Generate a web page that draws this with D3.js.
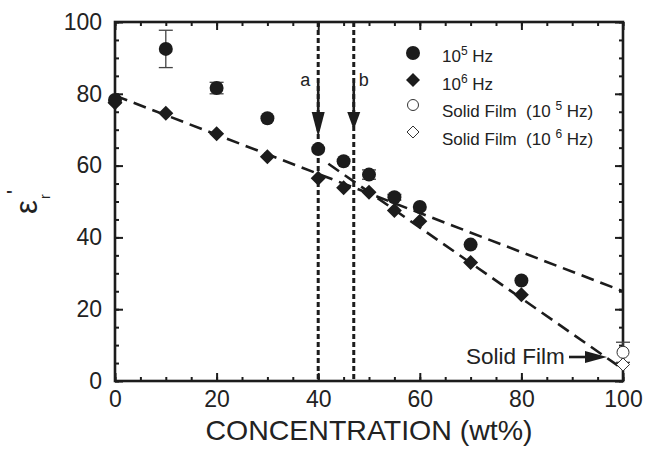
<!DOCTYPE html>
<html><head><meta charset="utf-8">
<script src="https://cdn.jsdelivr.net/npm/d3@7"></script>
<style>body{margin:0;background:#fff}svg{display:block}text{font-family:"Liberation Sans",Arial,sans-serif;fill:#222;white-space:pre}</style>
</head><body>
<svg id="c" width="646" height="449"></svg>
<script>
// ---- data ----
const conc = [0, 10, 20, 30, 40, 45, 50, 55, 60, 70, 80];
const eps1e5 = [78.3, 92.5, 81.6, 73.2, 64.6, 61.2, 57.5, 51.2, 48.5, 38.0, 28.0];
const err1e5 = [0, 5.2, 1.6, 0, 0, 0, 1.3, 0.8, 0, 0, 0];
const eps1e6 = [77.5, 74.6, 68.9, 62.5, 56.5, 53.8, 52.6, 47.5, 44.5, 33.0, 24.0];
const solidConc = [100];
const solid1e5 = [8.0];
const solidErr1e5 = [2.8];
const solid1e6 = [4.6];
const fitUpper = [[0, 79.5], [100, 25]];
const fitLower = [[42, 60.5], [100, 3.3]];
const markLines = [{x: 40, label: "a", tip: 68}, {x: 47, label: "b", tip: 70}];
const xTicks = [0, 20, 40, 60, 80, 100];
const yTicks = [0, 20, 40, 60, 80, 100];

const svg = d3.select("#c");
const x = d3.scaleLinear().domain([0, 100]).range([115, 623]);
const y = d3.scaleLinear().domain([0, 100]).range([381, 22]);
const ink = "#1c1c1c";

// vertical dotted lines
markLines.forEach(m => {
  svg.append("line").attr("x1", x(m.x)).attr("x2", x(m.x)).attr("y1", y(100)).attr("y2", y(0))
    .attr("stroke", ink).attr("stroke-width", 3).attr("stroke-dasharray", "5,3");
});

// fit lines
const line = d3.line().x(d => x(d[0])).y(d => y(d[1]));
[fitUpper, fitLower].forEach(f => {
  svg.append("path").attr("d", line(f)).attr("fill", "none").attr("stroke", ink)
    .attr("stroke-width", 2.6).attr("stroke-dasharray", "13,7");
});

// axes
function styleAxis(g) {
  g.select(".domain").remove();
  g.selectAll(".tick line").attr("stroke", ink).attr("stroke-width", 2);
  g.selectAll("text").style("font-size", "23px").attr("fill", "#222");
}
const xMinor = d3.range(0, 101, 5);
svg.append("g").attr("transform", `translate(0,${y(0)})`)
  .call(d3.axisBottom(x).tickValues(xMinor).tickSize(-4).tickFormat("")).call(styleAxis);
svg.append("g").attr("transform", `translate(0,${y(0)})`)
  .call(d3.axisBottom(x).tickValues(xTicks).tickSize(-8).tickPadding(10).tickFormat(d3.format("d"))).call(styleAxis);
svg.append("g").attr("transform", `translate(0,${y(100)})`)
  .call(d3.axisTop(x).tickValues(xMinor).tickSize(-4).tickFormat("")).call(styleAxis);
svg.append("g").attr("transform", `translate(0,${y(100)})`)
  .call(d3.axisTop(x).tickValues(xTicks).tickSize(-8).tickFormat("")).call(styleAxis);
svg.append("g").attr("transform", `translate(${x(0)},0)`)
  .call(d3.axisLeft(y).tickValues(xMinor).tickSize(-4).tickFormat("")).call(styleAxis);
svg.append("g").attr("transform", `translate(${x(0)},0)`)
  .call(d3.axisLeft(y).tickValues(yTicks).tickSize(-8).tickPadding(13).tickFormat(d3.format("d"))).call(styleAxis);
svg.append("g").attr("transform", `translate(${x(100)},0)`)
  .call(d3.axisRight(y).tickValues(xMinor).tickSize(-4).tickFormat("")).call(styleAxis);
svg.append("g").attr("transform", `translate(${x(100)},0)`)
  .call(d3.axisRight(y).tickValues(yTicks).tickSize(-8).tickFormat("")).call(styleAxis);

// frame
svg.append("rect").attr("x", x(0)).attr("y", y(100)).attr("width", x(100) - x(0)).attr("height", y(0) - y(100))
  .attr("fill", "none").attr("stroke", ink).attr("stroke-width", 2.6);

// error bars
function errBars(xs, ys, es) {
  xs.forEach((c, i) => {
    if (!es[i]) return;
    const g = svg.append("g").attr("stroke", "#444").attr("stroke-width", 1.3);
    g.append("line").attr("x1", x(c)).attr("x2", x(c)).attr("y1", y(ys[i] - es[i])).attr("y2", y(ys[i] + es[i]));
    [ys[i] - es[i], ys[i] + es[i]].forEach(v => g.append("line").attr("x1", x(c) - 7).attr("x2", x(c) + 7).attr("y1", y(v)).attr("y2", y(v)));
  });
}
errBars(conc, eps1e5, err1e5);
errBars(solidConc, solid1e5, solidErr1e5);

const diamond = s => `M0,${-s}L${s},0L0,${s}L${-s},0Z`;
// 10^6 diamonds
svg.append("g").selectAll("path").data(conc).join("path")
  .attr("transform", (d, i) => `translate(${x(d)},${y(eps1e6[i])})`)
  .attr("d", diamond(7.5)).attr("fill", ink);
// 10^5 circles
svg.append("g").selectAll("circle").data(conc).join("circle")
  .attr("cx", d => x(d)).attr("cy", (d, i) => y(eps1e5[i])).attr("r", 7).attr("fill", ink);
// solid film
svg.append("g").selectAll("circle").data(solidConc).join("circle")
  .attr("cx", d => x(d)).attr("cy", (d, i) => y(solid1e5[i])).attr("r", 6)
  .attr("fill", "#fff").attr("stroke", "#333").attr("stroke-width", 1);
svg.append("g").selectAll("path").data(solidConc).join("path")
  .attr("transform", (d, i) => `translate(${x(d)},${y(solid1e6[i])})`)
  .attr("d", diamond(6.5)).attr("fill", "#fff").attr("stroke", "#333").attr("stroke-width", 1);

// vertical arrows a, b
markLines.forEach(m => {
  const xp = x(m.x), top = 83, headBase = 112, tip = y(m.tip);
  svg.append("line").attr("x1", xp).attr("x2", xp).attr("y1", top).attr("y2", headBase + 2)
    .attr("stroke", ink).attr("stroke-width", 2.6);
  svg.append("path").attr("d", `M${xp - 6.5},${headBase}L${xp + 6.5},${headBase}L${xp},${tip}Z`).attr("fill", ink);
  svg.append("text").attr("x", m.label === "a" ? xp - 13 : xp + 10).attr("y", 86)
    .attr("text-anchor", "middle").style("font-size", "18px").text(m.label);
});

// Solid Film annotation
svg.append("text").attr("x", 466).attr("y", 364).style("font-size", "22.5px").text("Solid Film");
svg.append("line").attr("x1", 569).attr("x2", 588).attr("y1", 357).attr("y2", 357).attr("stroke", ink).attr("stroke-width", 2.6);
svg.append("path").attr("d", "M585,351L607,357L585,363Z").attr("fill", ink);

// legend
const lx = 413, tx = 442;
const leg = svg.append("g");
leg.append("circle").attr("cx", lx).attr("cy", 53).attr("r", 7).attr("fill", ink);
leg.append("path").attr("transform", `translate(${lx},80)`).attr("d", diamond(7)).attr("fill", ink);
leg.append("circle").attr("cx", lx).attr("cy", 105).attr("r", 5.5).attr("fill", "#fff").attr("stroke", "#333").attr("stroke-width", 1);
leg.append("path").attr("transform", `translate(${lx},132)`).attr("d", diamond(6)).attr("fill", "#fff").attr("stroke", "#333").attr("stroke-width", 1);
function legText(yb, pre, sup, post) {
  const t = leg.append("text").attr("x", tx).attr("y", yb).style("font-size", "17px");
  t.append("tspan").text(pre);
  t.append("tspan").attr("dy", -7).style("font-size", "12px").text(sup);
  t.append("tspan").attr("dy", 7).text(post);
}
legText(62, "10", "5", " Hz");
legText(90, "10", "6", " Hz");
legText(117, "Solid Film  (10 ", "5", " Hz)");
legText(145, "Solid Film  (10 ", "6", " Hz)");

// axis titles
svg.append("text").attr("x", (x(0) + x(100)) / 2).attr("y", 440).attr("text-anchor", "middle")
  .style("font-size", "28.5px").text("CONCENTRATION (wt%)");
const yl = svg.append("g").attr("transform", "translate(37,207) rotate(-90)");
yl.append("text").attr("x", 0).attr("y", 0).attr("text-anchor", "middle").style("font-size", "31px").text("ε");
yl.append("text").attr("x", 8).attr("y", 13).style("font-size", "14px").text("r");
yl.append("text").attr("x", 13).attr("y", -15).style("font-size", "22px").text("'");
</script>
</body></html>
